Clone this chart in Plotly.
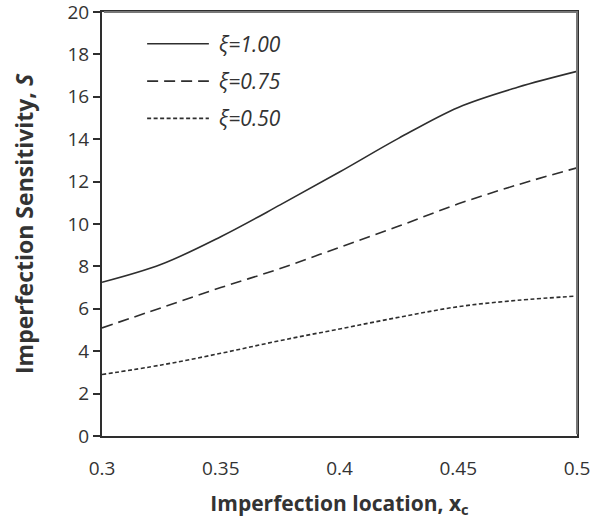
import plotly.graph_objects as go

# Imperfection location x_c
x_loc = [0.3, 0.325, 0.35, 0.375, 0.4, 0.425, 0.45, 0.475, 0.5]

# Imperfection sensitivity S for each damping ratio xi
s_xi_100 = [7.25, 8.1, 9.4, 10.9, 12.45, 14.05, 15.5, 16.45, 17.2]
s_xi_075 = [5.1, 6.05, 7.0, 7.9, 8.9, 9.9, 10.95, 11.85, 12.65]
s_xi_050 = [2.9, 3.35, 3.9, 4.5, 5.05, 5.6, 6.1, 6.4, 6.6]

series_names = ["ξ=1.00", "ξ=0.75", "ξ=0.50"]
series_values = [s_xi_100, s_xi_075, s_xi_050]
series_dash = ["solid", "11px,6px", "4px,2.5px"]

y_ticks = list(range(0, 21, 2))
x_ticks = [0.3, 0.35, 0.4, 0.45, 0.5]
x_tick_text = ["0.3", "0.35", "0.4", "0.45", "0.5"]

font_family = "Open Sans, Liberation Sans, sans-serif"
ink = "#2e2e2e"
frame = "#777777"
text_col = "#333333"

fig = go.Figure()
for name, vals, dash in zip(series_names, series_values, series_dash):
    fig.add_trace(go.Scatter(
        x=x_loc, y=vals, name=name, mode="lines",
        line=dict(color=ink, width=1.6, dash=dash, shape="spline", smoothing=1.0),
        showlegend=False,
    ))

# Key in the upper-left corner: a sample stroke and a label per series
for i, (name, dash) in enumerate(zip(series_names, series_dash)):
    yk = 0.925 - i * 0.088
    fig.add_shape(type="line", xref="x domain", yref="y domain",
                  x0=0.095, x1=0.225, y0=yk, y1=yk,
                  line=dict(color=ink, width=1.6, dash=dash))
    fig.add_annotation(xref="x domain", yref="y domain", x=0.242, y=yk,
                       xanchor="left", yanchor="middle", showarrow=False,
                       text=f"<i>{name}</i>",
                       font=dict(family=font_family, size=21, color=text_col))

fig.update_layout(
    width=590, height=519,
    margin=dict(l=102, r=13, t=12, b=83),
    paper_bgcolor="white", plot_bgcolor="white",
    font=dict(family=font_family, color=text_col, size=19),
    showlegend=False,
    xaxis=dict(
        range=[0.3, 0.5], tickvals=x_ticks, ticktext=x_tick_text,
        showgrid=False, zeroline=False, automargin=False,
        showline=True, linecolor=ink, linewidth=2, mirror=True,
        ticks="", ticklabelstandoff=14, ticklabeloverflow="allow",
        tickfont=dict(size=19),
        title=dict(text="<b>Imperfection location, x<sub>c</sub></b>",
                   font=dict(size=21, color=text_col), standoff=18),
    ),
    yaxis=dict(
        range=[0, 20], tickvals=y_ticks,
        showgrid=False, zeroline=False, automargin=False,
        showline=True, linecolor=ink, linewidth=2, mirror=True,
        ticks="outside", ticklen=7, tickwidth=1.5, tickcolor=ink,
        ticklabeloverflow="allow",
        tickfont=dict(size=19),
        title=dict(text="<b>Imperfection Sensitivity, <i>S</i></b>",
                   font=dict(size=23, color=text_col), standoff=27),
    ),
)

# Softer tone for the top and right sides of the frame
fig.add_shape(type="line", xref="paper", yref="paper", x0=0.004, x1=1.002, y0=1.0, y1=1.0,
              line=dict(color=frame, width=2), layer="above")
fig.add_shape(type="line", xref="paper", yref="paper", x0=1.0, x1=1.0, y0=0.004, y1=1.002,
              line=dict(color=frame, width=2), layer="above")

fig.write_html("out.html")
